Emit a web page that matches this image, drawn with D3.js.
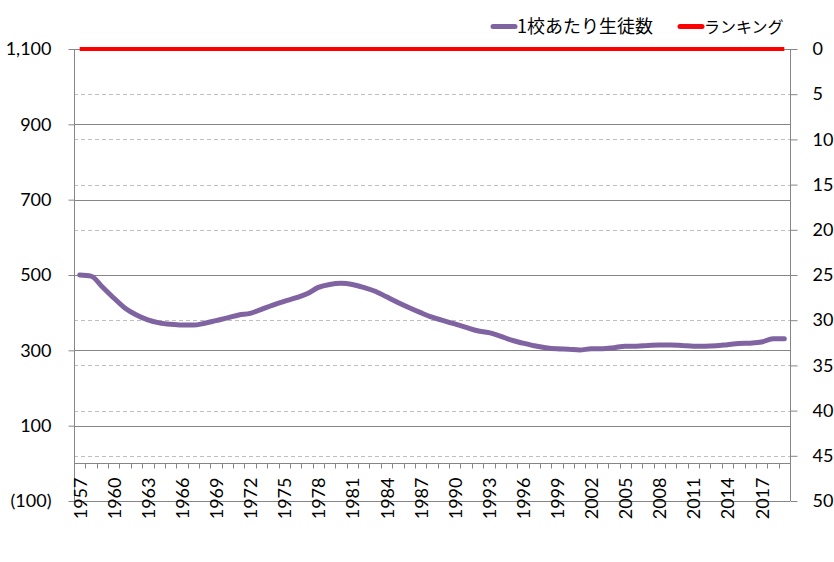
<!DOCTYPE html>
<html><head><meta charset="utf-8">
<script src="https://cdn.jsdelivr.net/npm/d3@7"></script>
<style>
body{margin:0;background:#fff;}
svg text{font-family:Lato,"Noto Sans CJK JP",sans-serif;}
</style></head>
<body><svg id="c" width="834" height="562"></svg>
<script>
const years = d3.range(1957, 2020).map(String);
const studentsPerSchool = [500,497,468,439,412,394,381,373,369,367,367,372,379,386,394,398,409,420,430,439,450,467,475,478,475,467,457,442,427,413,400,388,379,370,361,352,347,338,327,319,312,307,304,303,301,304,304,307,311,311,313,314,314,313,311,311,312,315,318,319,322,331,331];
const ranking = years.map(() => 0);
const leftTicks = [-100,100,300,500,700,900,1100];
const rightTicks = d3.range(0, 51, 5);
const labelYears = years.filter((d,i) => i % 3 === 0);
const seriesNames = ["1校あたり生徒数","ランキング"];
const colors = ["#8064A2","#FF0000"];

const svg = d3.select("#c");
const L = 74, R = 790, T = 49, B = 501;
const x = d3.scaleBand().domain(years).range([L, R]);
const yL = d3.scaleLinear().domain([-100, 1100]).range([B, T]);
const yR = d3.scaleLinear().domain([0, 50]).range([T, B]);
const fmt = v => v < 0 ? "(" + d3.format(",")(-v) + ")" : d3.format(",")(v);

// dashed gridlines (right axis)
svg.append("g").selectAll("line").data(rightTicks).join("line")
  .attr("x1", L).attr("x2", R).attr("y1", d => Math.round(yR(d))+0.5).attr("y2", d => Math.round(yR(d))+0.5)
  .attr("stroke", "#bfbfbf").attr("stroke-dasharray", "4,3").attr("stroke-width", 1);
// solid gridlines (left axis)
svg.append("g").selectAll("line").data(leftTicks).join("line")
  .attr("x1", L).attr("x2", R).attr("y1", d => Math.round(yL(d))+0.5).attr("y2", d => Math.round(yL(d))+0.5)
  .attr("stroke", "#868686").attr("stroke-width", 1);

// left axis
const gl = svg.append("g").attr("transform", `translate(${L+0.5},0)`)
  .call(d3.axisLeft(yL).tickValues(leftTicks).tickFormat(fmt).tickSize(6).tickPadding(17));
// right axis
const gr = svg.append("g").attr("transform", `translate(${R+0.5},0)`)
  .call(d3.axisRight(yR).tickValues(rightTicks).tickSize(7).tickPadding(15));
[gl, gr].forEach(g => {
  g.selectAll("path,line").attr("stroke", "#868686");
  g.selectAll("text").attr("font-size", 18).attr("fill", "#000");
});
gl.select(".domain").attr("d", `M0,${T}V${B}`);
gr.select(".domain").attr("d", `M0,${T}V${B}`);

// x axis at value 0
const y0 = Math.round(yL(0)) + 0.5;
const gx = svg.append("g").attr("transform", `translate(0,${y0})`);
gx.append("line").attr("x1", L).attr("x2", R).attr("stroke", "#868686");
gx.selectAll("line.tk").data(years.slice(1)).join("line").attr("class","tk")
  .attr("x1", d => Math.round(x(d))+0.5).attr("x2", d => Math.round(x(d))+0.5)
  .attr("y1", 0).attr("y2", 5).attr("stroke", "#868686");
gx.selectAll("text").data(labelYears).join("text")
  .attr("transform", d => `translate(${x(d)+x.bandwidth()/2+7},14) rotate(-90)`)
  .attr("text-anchor", "end").attr("font-size", 18).attr("fill", "#000").text(d => d);

// lines
const line = d3.line().x((d,i) => x(years[i]) + x.bandwidth()/2);
svg.append("path").datum(studentsPerSchool)
  .attr("d", line.y(d => yL(d)).curve(d3.curveMonotoneX))
  .attr("fill", "none").attr("stroke", colors[0]).attr("stroke-width", 5).attr("stroke-linecap", "round").attr("stroke-linejoin", "round");
svg.append("path").datum(ranking)
  .attr("d", d3.line().x((d,i) => x(years[i]) + x.bandwidth()/2).y(d => yR(d))(ranking))
  .attr("fill", "none").attr("stroke", colors[1]).attr("stroke-width", 4);

// legend
const lg = svg.append("g");
const lx = [493, 680];
const lfs = [18, 16];
seriesNames.forEach((n, i) => {
  lg.append("line").attr("x1", lx[i]).attr("x2", lx[i]+22).attr("y1", 26.5).attr("y2", 26.5)
    .attr("stroke", colors[i]).attr("stroke-width", 5).attr("stroke-linecap", "round");
  lg.append("text").attr("x", lx[i]+24).attr("y", 33).attr("font-size", lfs[i])
    .style("font-family", "'Noto Sans CJK JP',sans-serif").attr("fill", "#000").text(n);
});
</script></body></html>
